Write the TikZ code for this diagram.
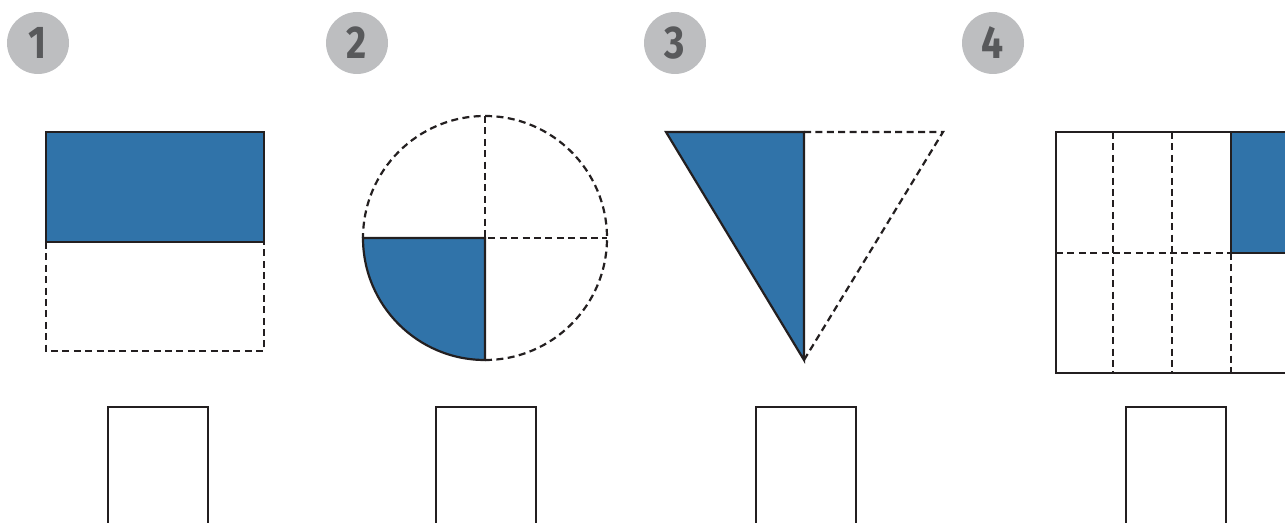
\documentclass[tikz,border=0pt]{standalone}
\usepackage{fontspec}
\setmainfont{Fira Sans}
\definecolor{fillblue}{HTML}{3073A9}
\definecolor{badge}{HTML}{BDBEC0}
\definecolor{numgray}{HTML}{58595B}
\definecolor{ink}{HTML}{231F20}
\begin{document}
\begin{tikzpicture}[x=0.5pt,y=-0.5pt,
  solidline/.style={draw=ink,line width=1.1pt,line join=miter},
  dashline/.style={draw=ink,line width=1.1pt,dash pattern=on 3.5pt off 2.2pt},
  badgenode/.style={circle,fill=badge,minimum size=31pt,inner sep=0pt,
     font=\fontsize{23}{23}\selectfont\bfseries,text=numgray}]
\useasboundingbox (0,0) rectangle (1285,523);
\clip (0,0) rectangle (1285,523);
% badges
\node[badgenode] (b1) at (38,43) {\scalebox{0.85}[1]{1}};
\node[badgenode] (b2) at (357,43) {\scalebox{0.85}[1]{2}};
\node[badgenode] (b3) at (675,43) {\scalebox{0.85}[1]{3}};
\node[badgenode] (b4) at (993,43) {\scalebox{0.85}[1]{4}};
% shape 1
\fill[fillblue] (46,132) rectangle (264,242);
\draw[solidline] (46,242) -- (46,132) -- (264,132) -- (264,242) -- cycle;
\draw[dashline] (46,242) -- (46,351) -- (264,351) -- (264,242);
% shape 2
\filldraw[fill=fillblue,solidline] (485,238) -- (363,238) arc[start angle=180,end angle=90,radius=122] -- cycle;
\draw[dashline] (485,360) arc[start angle=90,end angle=-180,radius=122];
\draw[dashline] (485,116) -- (485,238) -- (607,238);
% shape 3
\filldraw[fill=fillblue,solidline] (666,132) -- (804,132) -- (804,360) -- cycle;
\draw[dashline] (804,132) -- (943,132) -- (804,360);
% shape 4
\fill[fillblue] (1231,132) rectangle (1292,253);
\draw[solidline] (1231,253) -- (1231,132);
\draw[solidline] (1231,253) -- (1292,253);
\draw[solidline] (1292,132) -- (1056,132) -- (1056,373) -- (1292,373);
\draw[dashline] (1113,132) -- (1113,373);
\draw[dashline] (1172,132) -- (1172,373);
\draw[dashline] (1231,253) -- (1231,373);
\draw[dashline] (1056,253) -- (1231,253);
% answer boxes
\draw[solidline] (108,530) -- (108,407) -- (208,407) -- (208,530);
\draw[solidline] (436,530) -- (436,407) -- (536,407) -- (536,530);
\draw[solidline] (756,530) -- (756,407) -- (856,407) -- (856,530);
\draw[solidline] (1126,530) -- (1126,407) -- (1226,407) -- (1226,530);
\end{tikzpicture}
\end{document}
